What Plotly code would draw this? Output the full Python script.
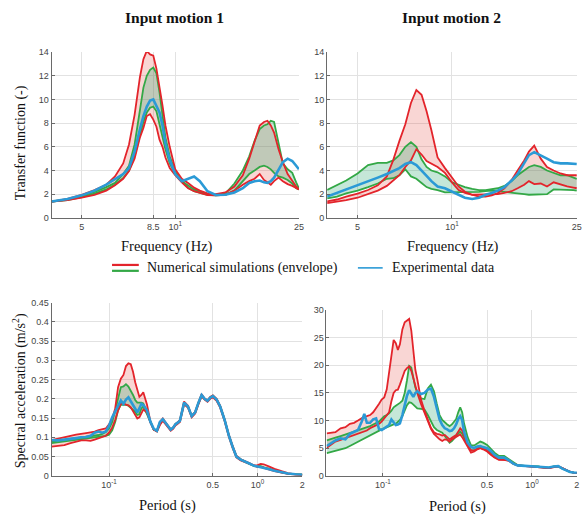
import numpy as np
import plotly.graph_objects as go

# ---------------- data ----------------
# Top-left: Input motion 1, transfer function vs frequency (Hz)
tl_freq = [4.0, 4.5, 5.0, 5.5, 6.0, 6.4, 6.8, 7.1, 7.4, 7.7, 7.9, 8.1, 8.3, 8.5, 8.7,
           8.9, 9.1, 9.3, 9.6, 10.0, 10.5, 11.0, 11.5, 12.0, 12.7, 13.5, 14.5, 15.5, 16.5, 17.3,
           18.0, 18.7, 19.3, 19.8, 20.3, 20.8, 21.5, 22.2, 23.0, 23.8, 24.5, 25.0]
tl_red_hi = [1.38, 1.6, 1.95, 2.35, 2.8, 3.5, 4.6, 6.2, 8.7, 11.9, 13.4, 14.1, 13.8, 13.7, 12.6,
             11.2, 9.5, 7.8, 6.0, 4.1, 3.3, 2.95, 2.55, 2.3, 2.07, 2.0, 2.15, 2.65, 3.6, 5.0,
             6.5, 7.8, 8.1, 8.2, 7.8, 7.2, 5.8, 4.7, 3.7, 3.1, 2.65, 2.4]
tl_red_lo = [1.38, 1.5, 1.7, 1.95, 2.3, 2.75, 3.3, 3.95, 5.0, 6.8, 7.6, 8.6, 8.75, 8.3, 7.7,
             6.6, 6.0, 5.1, 4.2, 3.6, 3.0, 2.5, 2.25, 2.1, 1.93, 1.9, 1.95, 2.3, 2.8, 3.1,
             3.3, 3.7, 3.2, 3.0, 2.8, 3.1, 3.4, 3.1, 2.85, 2.7, 2.5, 2.4]
tl_green_hi = [1.38, 1.55, 1.85, 2.2, 2.6, 2.95, 3.7, 4.4, 6.2, 9.1, 11.0, 12.0, 12.5, 12.7, 12.2,
               10.6, 8.5, 6.8, 5.2, 3.9, 3.1, 2.75, 2.4, 2.2, 2.0, 1.93, 2.05, 2.9, 4.0, 5.2,
               6.5, 7.5, 7.8, 7.9, 8.2, 8.1, 6.2, 4.6, 4.1, 3.8, 3.0, 2.5]
tl_green_lo = [1.38, 1.5, 1.75, 2.05, 2.4, 2.8, 3.35, 4.0, 5.2, 7.0, 8.1, 8.9, 9.3, 9.4, 9.0,
               7.9, 6.8, 5.8, 4.6, 3.7, 3.05, 2.55, 2.25, 2.1, 1.95, 1.9, 1.95, 2.3, 3.1, 3.7,
               4.0, 4.3, 4.4, 4.3, 4.1, 3.8, 3.5, 3.4, 3.2, 2.9, 2.5, 2.4]
tl_blue = [1.38, 1.6, 1.9, 2.3, 2.8, 3.3, 3.7, 4.2, 5.6, 7.5, 8.6, 9.4, 9.9, 10.0, 9.5,
           8.9, 7.8, 6.3, 4.9, 3.7, 3.1, 3.3, 3.5, 3.1, 2.25, 1.93, 1.95, 2.15, 2.5, 2.95,
           3.1, 3.15, 3.0, 2.95, 3.1, 3.4, 4.1, 4.7, 5.0, 4.8, 4.4, 4.1]

# Top-right: Input motion 2, transfer function vs frequency (Hz)
tr_freq = [4.0, 4.3, 4.6, 5.0, 5.4, 5.8, 6.2, 6.5, 6.8, 7.1, 7.4, 7.7, 8.0, 8.3, 8.6,
           9.0, 9.5, 10.0, 10.5, 11.0, 11.6, 12.2, 12.8, 13.4, 14.0, 14.7, 15.5, 16.2, 17.0, 17.6,
           18.3, 19.2, 20.1, 21.1, 22.2, 23.3, 24.4, 25.0]
tr_red_hi = [1.4, 1.55, 1.8, 2.05, 2.35, 2.75, 3.5, 4.9, 6.5, 7.9, 9.7, 10.8, 10.4, 9.0, 7.4,
             5.1, 4.2, 3.4, 2.65, 2.2, 1.95, 1.8, 1.8, 1.9, 2.1, 2.5, 3.2, 4.0, 4.85, 5.6,
             6.1, 5.0, 4.3, 4.0, 3.75, 3.6, 3.6, 3.6]
tr_red_lo = [1.25, 1.35, 1.5, 1.7, 2.0, 2.3, 2.7, 3.2, 3.6, 4.3, 4.85, 5.8, 5.35, 4.8, 4.6,
             4.3, 3.8, 3.0, 2.35, 2.1, 1.95, 1.95, 1.95, 1.95, 2.0, 2.1, 2.25, 2.5, 2.8, 3.1,
             2.85, 2.9, 2.65, 3.0, 2.8, 2.65, 2.55, 2.5]
tr_green_hi = [2.35, 2.75, 3.15, 3.75, 4.45, 4.65, 4.65, 4.85, 5.3, 6.0, 6.4, 6.0, 4.95, 4.3, 4.0,
               3.85, 3.5, 3.0, 2.8, 2.6, 2.45, 2.35, 2.35, 2.4, 2.5, 2.7, 3.1, 3.6, 4.0, 4.3,
               4.45, 4.3, 4.0, 3.8, 3.6, 3.6, 3.4, 3.3]
tr_green_lo = [1.65, 1.8, 2.07, 2.3, 2.6, 2.9, 3.3, 3.35, 3.6, 4.1, 3.5, 3.3, 2.95, 2.6, 2.45,
               2.35, 2.15, 2.15, 2.2, 2.15, 2.2, 2.2, 2.25, 2.3, 2.25, 2.2, 2.15, 2.1, 2.0, 1.95,
               1.95, 1.95, 2.0, 2.4, 2.4, 2.35, 2.35, 2.3]
tr_blue = [1.8, 2.1, 2.4, 2.75, 3.1, 3.4, 3.7, 3.95, 4.2, 4.55, 4.7, 4.45, 3.95, 3.55, 3.1,
           2.65, 2.5, 2.25, 1.95, 1.7, 1.6, 1.7, 1.95, 2.1, 2.3, 2.6, 3.15, 3.7, 4.7, 5.3,
           5.55, 5.3, 5.0, 4.7, 4.6, 4.6, 4.55, 4.55]

# Bottom-left: Input motion 1, spectral acceleration (m/s2) vs period (s)
bl_period = [0.041, 0.045, 0.05, 0.055, 0.06, 0.065, 0.07, 0.075, 0.08, 0.085,
             0.09, 0.095, 0.1, 0.105, 0.11, 0.115, 0.12, 0.125, 0.13, 0.135,
             0.14, 0.145, 0.15, 0.155, 0.16, 0.165, 0.17, 0.18, 0.19, 0.2,
             0.21, 0.22, 0.23, 0.24, 0.25, 0.26, 0.27, 0.28, 0.29, 0.3,
             0.32, 0.34, 0.36, 0.38, 0.4, 0.42, 0.44, 0.46, 0.48, 0.5,
             0.53, 0.56, 0.6, 0.64, 0.68, 0.72, 0.77, 0.82, 0.88, 0.95,
             1.0, 1.05, 1.1, 1.2, 1.3, 1.45, 1.6, 1.8, 2.0]
bl_red_hi = [0.093, 0.097, 0.100, 0.104, 0.107, 0.110, 0.111, 0.113, 0.115, 0.119,
             0.121, 0.123, 0.134, 0.148, 0.175, 0.23, 0.252, 0.262, 0.285, 0.292,
             0.29, 0.27, 0.243, 0.222, 0.205, 0.21, 0.217, 0.185, 0.14, 0.12,
             0.116, 0.14, 0.149, 0.139, 0.128, 0.12, 0.126, 0.135, 0.139, 0.145,
             0.193, 0.182, 0.156, 0.166, 0.19, 0.212, 0.201, 0.196, 0.205, 0.209,
             0.2, 0.182, 0.147, 0.107, 0.077, 0.052, 0.043, 0.039, 0.033, 0.027,
             0.028, 0.031, 0.03, 0.024, 0.018, 0.012, 0.007, 0.004, 0.003]
bl_red_lo = [0.076, 0.078, 0.08, 0.085, 0.089, 0.092, 0.092, 0.091, 0.094, 0.098,
             0.101, 0.104, 0.112, 0.125, 0.145, 0.17, 0.187, 0.188, 0.185, 0.183,
             0.178, 0.168, 0.158, 0.149, 0.152, 0.162, 0.172, 0.165, 0.138, 0.12,
             0.115, 0.132, 0.143, 0.134, 0.125, 0.117, 0.122, 0.131, 0.135, 0.14,
             0.186, 0.177, 0.152, 0.162, 0.186, 0.206, 0.198, 0.192, 0.2, 0.204,
             0.195, 0.177, 0.142, 0.102, 0.072, 0.048, 0.04, 0.036, 0.03, 0.025,
             0.023, 0.023, 0.02, 0.016, 0.012, 0.008, 0.005, 0.003, 0.002]
bl_green_hi = [0.089, 0.091, 0.093, 0.096, 0.098, 0.1, 0.101, 0.102, 0.104, 0.106,
               0.109, 0.114, 0.123, 0.14, 0.17, 0.205, 0.23, 0.232, 0.238, 0.232,
               0.222, 0.21, 0.197, 0.19, 0.19, 0.19, 0.188, 0.165, 0.14, 0.12,
               0.118, 0.138, 0.147, 0.138, 0.128, 0.12, 0.125, 0.134, 0.138, 0.144,
               0.19, 0.18, 0.156, 0.165, 0.19, 0.21, 0.2, 0.195, 0.204, 0.208,
               0.199, 0.181, 0.146, 0.106, 0.076, 0.051, 0.043, 0.038, 0.032, 0.026,
               0.025, 0.025, 0.022, 0.018, 0.014, 0.01, 0.006, 0.004, 0.003]
bl_green_lo = [0.085, 0.087, 0.089, 0.092, 0.094, 0.095, 0.097, 0.098, 0.099, 0.1,
               0.102, 0.104, 0.107, 0.118, 0.14, 0.17, 0.185, 0.185, 0.184, 0.182,
               0.177, 0.172, 0.166, 0.158, 0.16, 0.175, 0.18, 0.16, 0.138, 0.12,
               0.116, 0.134, 0.145, 0.136, 0.127, 0.119, 0.124, 0.133, 0.137, 0.142,
               0.188, 0.178, 0.154, 0.164, 0.188, 0.207, 0.199, 0.194, 0.202, 0.206,
               0.197, 0.179, 0.144, 0.104, 0.074, 0.049, 0.041, 0.037, 0.031, 0.025,
               0.024, 0.024, 0.021, 0.017, 0.013, 0.009, 0.006, 0.004, 0.003]
bl_blue = [0.093, 0.092, 0.094, 0.097, 0.098, 0.100, 0.101, 0.104, 0.112, 0.115,
           0.112, 0.115, 0.13, 0.152, 0.168, 0.185, 0.196, 0.187, 0.198, 0.204,
           0.194, 0.185, 0.175, 0.165, 0.175, 0.187, 0.184, 0.17, 0.14, 0.122,
           0.117, 0.14, 0.147, 0.137, 0.128, 0.12, 0.125, 0.134, 0.138, 0.143,
           0.19, 0.18, 0.155, 0.165, 0.19, 0.21, 0.2, 0.195, 0.203, 0.207,
           0.198, 0.18, 0.145, 0.105, 0.075, 0.05, 0.042, 0.038, 0.032, 0.026,
           0.024, 0.024, 0.021, 0.017, 0.013, 0.009, 0.006, 0.004, 0.003]

# Bottom-right: Input motion 2, spectral acceleration vs period (s)
br_period = [0.042, 0.045, 0.048, 0.052, 0.056, 0.06, 0.064, 0.068, 0.072, 0.075,
             0.078, 0.082, 0.086, 0.09, 0.094, 0.098, 0.102, 0.106, 0.11, 0.114,
             0.118, 0.122, 0.126, 0.13, 0.135, 0.14, 0.145, 0.15, 0.155, 0.16,
             0.165, 0.17, 0.18, 0.19, 0.2, 0.21, 0.22, 0.23, 0.24, 0.25,
             0.26, 0.27, 0.28, 0.29, 0.3, 0.31, 0.32, 0.33, 0.34, 0.35,
             0.37, 0.39, 0.41, 0.43, 0.45, 0.47, 0.5, 0.53, 0.56, 0.6,
             0.65, 0.7, 0.75, 0.8, 0.9, 1.0, 1.1, 1.2, 1.3, 1.4,
             1.5, 1.6, 1.7, 1.8, 1.9, 2.0]
br_red_hi = [7.7, 7.8, 7.9, 8.6, 8.8, 9.4, 9.6, 10.0, 10.5, 10.7,
             10.8, 11.0, 11.5, 12.2, 13.0, 13.8, 14.2, 15.6, 18.5, 22.0,
             24.6, 24.0, 22.8, 23.8, 26.5, 27.8, 28.1, 28.4, 26.3, 22.0,
             19.2, 17.5, 13.8, 11.8, 10.0, 8.7, 7.9, 7.6, 7.5, 7.3,
             7.4, 7.0, 6.6, 6.9, 7.2, 7.4, 8.0, 8.6, 8.2, 7.2,
             5.6, 4.6, 4.6, 4.9, 5.05, 4.9, 4.6, 3.9, 3.4, 3.0,
             2.9, 2.8, 2.2, 1.9, 1.75, 1.7, 1.6, 1.5, 1.4, 1.6,
             1.7, 1.4, 1.0, 0.75, 0.6, 0.5]
br_red_lo = [5.1, 5.7, 6.2, 6.5, 6.8, 7.1, 7.4, 7.6, 7.8, 8.0,
             8.2, 8.6, 8.9, 9.1, 9.4, 9.8, 10.4, 11.0, 11.5, 13.5,
             15.0, 15.5, 15.6, 16.5, 17.8, 19.0, 19.5, 19.8, 19.0, 17.5,
             16.3, 15.0, 13.0, 11.5, 10.0, 8.5, 7.6, 7.0, 6.6, 6.3,
             6.6, 6.5, 6.2, 6.6, 6.8, 7.0, 7.3, 7.5, 7.0, 6.5,
             5.3, 4.2, 4.4, 4.8, 5.0, 4.8, 4.4, 3.8, 3.3, 2.9,
             2.9, 2.7, 2.2, 1.9, 1.75, 1.7, 1.6, 1.5, 1.4, 1.6,
             1.7, 1.4, 1.0, 0.75, 0.6, 0.5]
br_green_hi = [6.4, 6.6, 6.9, 7.2, 7.5, 7.7, 8.0, 8.2, 8.4, 8.6,
               8.8, 9.0, 9.3, 9.5, 9.8, 10.3, 10.8, 11.0, 11.3, 11.8,
               12.4, 12.7, 12.9, 13.2, 13.6, 15.0, 17.3, 19.9, 19.6, 18.0,
               16.0, 15.2, 14.0, 13.9, 15.8, 16.5, 15.3, 13.0, 11.0, 10.1,
               9.6, 9.3, 9.0, 9.3, 9.8, 10.3, 11.5, 12.4, 11.5, 9.5,
               7.0, 5.5, 5.5, 5.8, 6.2, 6.0, 5.6, 4.9, 4.2, 3.6,
               3.6, 3.0, 2.5, 1.95, 1.8, 1.75, 1.7, 1.5, 1.5, 1.7,
               1.75, 1.3, 0.95, 0.7, 0.6, 0.55]
br_green_lo = [4.1, 4.3, 4.5, 4.8, 5.0, 5.4, 5.8, 6.2, 6.6, 6.8,
               7.0, 7.3, 7.6, 7.9, 8.2, 8.4, 8.6, 8.8, 9.0, 9.2,
               9.3, 9.4, 9.7, 10.1, 10.8, 11.8, 12.8, 13.3, 13.2, 12.9,
               12.5, 12.2, 12.1, 12.0, 11.0, 9.8, 8.8, 8.3, 8.1, 7.8,
               7.2, 6.5, 6.0, 6.3, 6.8, 7.2, 7.6, 8.0, 7.6, 6.8,
               5.6, 4.6, 4.6, 5.0, 5.2, 5.0, 4.7, 4.1, 3.6, 3.2,
               3.1, 2.8, 2.2, 1.9, 1.75, 1.7, 1.65, 1.5, 1.45, 1.65,
               1.7, 1.35, 1.0, 0.7, 0.6, 0.5]
br_blue = [5.4, 6.0, 6.4, 6.8, 6.6, 7.6, 7.9, 8.3, 9.8, 11.2,
           9.6, 9.6, 10.2, 10.4, 8.5, 8.3, 8.6, 8.9, 9.2, 10.2,
           9.6, 9.2, 9.3, 9.5, 11.0, 12.8, 14.5, 15.5, 14.8, 14.3,
           15.0, 15.3, 14.8, 15.0, 15.6, 15.8, 14.3, 12.0, 10.2, 9.2,
           8.6, 8.4, 8.1, 8.2, 8.6, 9.3, 10.3, 10.8, 10.1, 8.0,
           6.0, 5.2, 5.05, 5.3, 5.4, 5.2, 5.0, 4.5, 3.8, 3.3,
           3.3, 2.8, 2.2, 1.9, 1.8, 1.75, 1.7, 1.5, 1.5, 1.7,
           1.75, 1.3, 0.95, 0.7, 0.6, 0.55]

freq_ticks_l = [5, 8.5, 10, 25]
freq_text_l = ["5", "8.5", "10<sup>1</sup>", "25"]
freq_ticks_r = [5, 10, 25]
freq_text_r = ["5", "10<sup>1</sup>", "25"]
per_ticks = [0.1, 0.5, 1, 2]
per_text = ["10<sup>-1</sup>", "0.5", "10<sup>0</sup>", "2"]
tf_ticks = [0, 2, 4, 6, 8, 10, 12, 14]
sa1_ticks = [0, 0.05, 0.1, 0.15, 0.2, 0.25, 0.3, 0.35, 0.4, 0.45]
sa1_text = ["0", "0.05", "0.1", "0.15", "0.2", "0.25", "0.3", "0.35", "0.4", "0.45"]
sa2_ticks = [0, 5, 10, 15, 20, 25, 30]

# ---------------- styling ----------------
W, H = 582, 524
RED = "#e3242b"
GREEN = "#33a846"
BLUE = "#2b9ad6"
RED_FILL = "rgba(226,70,60,0.22)"
GREEN_FILL = "rgba(40,165,110,0.27)"
SERIF = "Liberation Serif"
SANS = "Liberation Sans"


def px(x):
    return x / W


def py(y):
    return 1 - y / H


fig = go.Figure()

panels = [
    ("x", "y", tl_freq, tl_red_lo, tl_red_hi, tl_green_lo, tl_green_hi, tl_blue),
    ("x2", "y2", tr_freq, tr_red_lo, tr_red_hi, tr_green_lo, tr_green_hi, tr_blue),
    ("x3", "y3", bl_period, bl_red_lo, bl_red_hi, bl_green_lo, bl_green_hi, bl_blue),
    ("x4", "y4", br_period, br_red_lo, br_red_hi, br_green_lo, br_green_hi, br_blue),
]

for xa, ya, xs, rlo, rhi, glo, ghi, bl in panels:
    common = dict(xaxis=xa, yaxis=ya, mode="lines", showlegend=False, hoverinfo="skip")
    fig.add_trace(go.Scatter(x=xs, y=rlo, line=dict(width=0, color=RED), **common))
    fig.add_trace(go.Scatter(x=xs, y=rhi, fill="tonexty", fillcolor=RED_FILL,
                             line=dict(width=0, color=RED), **common))
    fig.add_trace(go.Scatter(x=xs, y=glo, line=dict(width=0, color=GREEN), **common))
    fig.add_trace(go.Scatter(x=xs, y=ghi, fill="tonexty", fillcolor=GREEN_FILL,
                             line=dict(width=0, color=GREEN), **common))
    for ys, col in [(glo, GREEN), (ghi, GREEN), (rlo, RED), (rhi, RED)]:
        fig.add_trace(go.Scatter(x=xs, y=ys, line=dict(width=1.8, color=col), **common))
    fig.add_trace(go.Scatter(x=xs, y=bl, line=dict(width=2.6, color=BLUE), **common))

axis_common = dict(showgrid=True, gridcolor="#e2e2e2", gridwidth=1, showline=True,
                   linecolor="#6a6a6a", linewidth=1, ticks="inside", ticklen=3,
                   tickcolor="#6a6a6a", zeroline=False,
                   tickfont=dict(family=SANS, size=9, color="#444444"))

fig.update_layout(
    width=W, height=H, margin=dict(l=0, r=0, t=0, b=0),
    paper_bgcolor="white", plot_bgcolor="white", showlegend=False,
    xaxis=dict(type="log", range=[np.log10(4), np.log10(25.02)], domain=[px(52), px(301.6)],
               tickvals=freq_ticks_l, ticktext=freq_text_l, anchor="y", **axis_common),
    yaxis=dict(range=[0, 14], domain=[py(217), py(48)], tickvals=tf_ticks, anchor="x",
               **axis_common),
    xaxis2=dict(type="log", range=[np.log10(4), np.log10(25.05)], domain=[px(330), 1.0],
                tickvals=freq_ticks_r, ticktext=freq_text_r, anchor="y2", **axis_common),
    yaxis2=dict(range=[0, 14], domain=[py(217), py(48)], tickvals=tf_ticks, anchor="x2",
                **axis_common),
    xaxis3=dict(type="log", range=[np.log10(0.041), np.log10(2.003)], domain=[px(52), px(305)],
                tickvals=per_ticks, ticktext=per_text, anchor="y3", **axis_common),
    yaxis3=dict(range=[0, 0.45], domain=[py(480), py(303.3)], tickvals=sa1_ticks,
                ticktext=sa1_text, anchor="x3", **axis_common),
    xaxis4=dict(type="log", range=[np.log10(0.0418), np.log10(2.005)], domain=[px(329.3), 1.0],
                tickvals=per_ticks, ticktext=per_text, anchor="y4", **axis_common),
    yaxis4=dict(range=[0, 30], domain=[py(480), py(311)], tickvals=sa2_ticks, anchor="x4",
                **axis_common),
)

ann = []


def text(x, y, s, size, bold=False, angle=0, xanchor="center"):
    ann.append(dict(x=px(x), y=py(y), xref="paper", yref="paper",
                    text=("<b>%s</b>" % s) if bold else s,
                    showarrow=False, textangle=angle, xanchor=xanchor, yanchor="middle",
                    font=dict(family=SERIF, size=size, color="#111111")))


text(176, 13, "Input motion 1", 15.5, bold=True)
text(455, 13, "Input motion 2", 15.5, bold=True)
text(22, 140, "Transfer function (-)", 14, angle=-90)
text(20, 393, "Spectral acceleration (m/s<sup>2</sup>)", 14, angle=-90)
text(168, 246, "Frequency (Hz)", 14.5)
text(457, 246, "Frequency (Hz)", 14.5)
text(169, 510, "Period (s)", 14.5)
text(461, 511, "Period (s)", 14.5)
text(146, 268, "Numerical simulations (envelope)", 14, xanchor="left")
text(393, 268, "Experimental data", 14, xanchor="left")
fig.update_layout(annotations=ann)

shapes = [
    dict(type="line", xref="paper", yref="paper", x0=px(113), x1=px(140), y0=py(265), y1=py(265),
         line=dict(color=RED, width=2.2)),
    dict(type="line", xref="paper", yref="paper", x0=px(113), x1=px(140), y0=py(271), y1=py(271),
         line=dict(color=GREEN, width=2.2)),
    dict(type="line", xref="paper", yref="paper", x0=px(361), x1=px(386), y0=py(268), y1=py(268),
         line=dict(color=BLUE, width=1.6)),
]
fig.update_layout(shapes=shapes)

fig.write_html("out.html")
